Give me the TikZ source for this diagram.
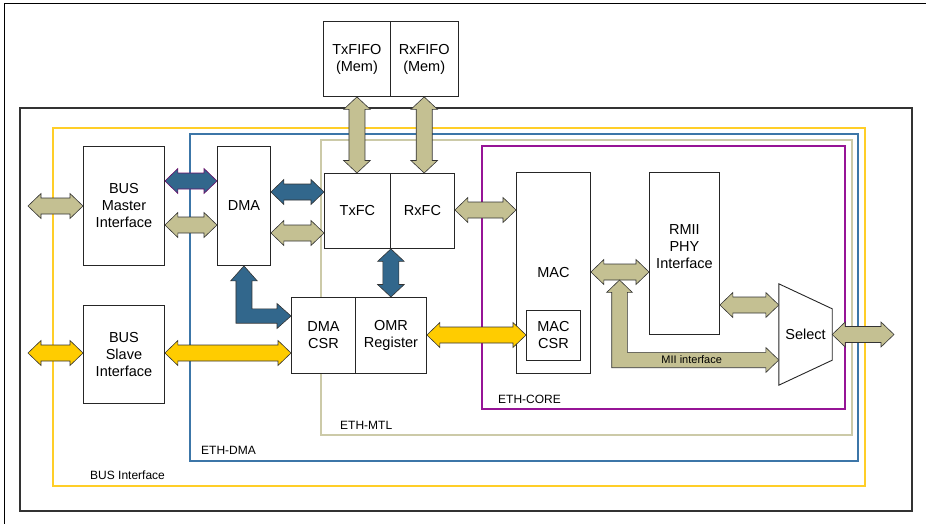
\documentclass[tikz,border=0pt]{standalone}
\usepackage{fontspec}
\setmainfont{Liberation Sans}
\usetikzlibrary{calc}
\definecolor{arrTan}{RGB}{196,192,146}
\definecolor{arrBlue}{RGB}{50,103,140}
\definecolor{arrYellow}{RGB}{255,204,0}
\definecolor{frameYellow}{RGB}{255,206,40}
\definecolor{frameBlue}{RGB}{60,118,168}
\definecolor{frameTan}{RGB}{204,202,168}
\definecolor{framePurple}{RGB}{150,20,150}
\newcommand{\boxfont}{\fontsize{14.5}{17}\selectfont}
\newcommand{\framefont}{\fontsize{12}{14}\selectfont}
% double block arrow, left to right
\newcommand{\dblharrow}[3]{%
  \path[#1] let \p1=(#2), \p2=(#3) in
    (\x1,\y1) -- (\x1+13pt,\y1+12.5pt) -- (\x1+13pt,\y1+8pt) -- (\x2-13pt,\y1+8pt)
    -- (\x2-13pt,\y1+12.5pt) -- (\x2,\y1) -- (\x2-13pt,\y1-12.5pt) -- (\x2-13pt,\y1-8pt)
    -- (\x1+13pt,\y1-8pt) -- (\x1+13pt,\y1-12.5pt) -- cycle;}
% double block arrow, top to bottom
\newcommand{\dblvarrow}[3]{%
  \path[#1] let \p1=(#2), \p2=(#3) in
    (\x1,\y1) -- (\x1+13.3pt,\y1-12.5pt) -- (\x1+8pt,\y1-12.5pt) -- (\x1+8pt,\y2+12.5pt)
    -- (\x1+13.3pt,\y2+12.5pt) -- (\x1,\y2) -- (\x1-13.3pt,\y2+12.5pt) -- (\x1-8pt,\y2+12.5pt)
    -- (\x1-8pt,\y1-12.5pt) -- (\x1-13.3pt,\y1-12.5pt) -- cycle;}
\begin{document}
\begin{tikzpicture}[x=1pt, y=-1pt,
    blk/.style={draw=black!85, line width=0.9pt, fill=white, align=center,
      inner sep=0pt, font=\boxfont, anchor=north west},
    frame/.style={line width=1.3pt},
    framelbl/.style={font=\framefont, anchor=west, inner sep=0pt},
    tanArr/.style={fill=arrTan, draw=black!80, line width=0.6pt},
    blueArr/.style={fill=arrBlue, draw=black!80, line width=0.6pt},
    yellowArr/.style={fill=arrYellow, draw=black!80, line width=0.6pt}]
  \useasboundingbox (0,0) rectangle (926,524);
  % frames
  \draw[line width=1pt] (4,524) -- (4,4) -- (926,4);
  \draw[line width=1.4pt, black!80] (20,108) rectangle (912,511);
  \draw[frame, frameYellow] (53,128) rectangle (865,486);
  \draw[frame, frameBlue] (190,134) rectangle (858,461);
  \draw[frame, frameTan] (321,140) rectangle (852,435);
  \draw[frame, framePurple] (482,146) rectangle (845,409);
  \node[framelbl] (busLbl) at (90,475) {BUS Interface};
  \node[framelbl] (dmaLbl) at (201,450) {ETH-DMA};
  \node[framelbl] (mtlLbl) at (340,425) {ETH-MTL};
  \node[framelbl] (coreLbl) at (498,399) {ETH-CORE};
  % blocks
  \node[blk, minimum width=67pt, minimum height=75pt] (txfifo) at (323,21) {TxFIFO\\(Mem)};
  \node[blk, minimum width=67.5pt, minimum height=75pt] (rxfifo) at (390,21) {RxFIFO\\(Mem)};
  \node[blk, minimum width=66pt, minimum height=75pt] (txfc) at (324,173) {TxFC};
  \node[blk, minimum width=64pt, minimum height=75pt] (rxfc) at (390,173) {RxFC};
  \node[blk, minimum width=81pt, minimum height=119pt] (bmi) at (83,146) {BUS\\Master\\Interface};
  \node[blk, minimum width=53pt, minimum height=119pt] (dma) at (217,146) {DMA};
  \node[blk, minimum width=81pt, minimum height=98pt] (bsi) at (83,305) {BUS\\Slave\\Interface};
  \node[blk, minimum width=64pt, minimum height=75.5pt] (dmacsr) at (291,297) {DMA\\CSR};
  \node[blk, minimum width=71pt, minimum height=75.5pt] (omr) at (355,297) {OMR\\Register};
  \node[blk, minimum width=74pt, minimum height=200.5pt] (mac) at (516,172) {MAC};
  \node[blk, minimum width=54pt, minimum height=50pt] (maccsr) at (526,310) {MAC\\CSR};
  \node[blk, minimum width=70pt, minimum height=162pt] (rmii) at (649,172) {};
  \node[align=center, font=\boxfont, inner sep=0pt] (rmiiTxt) at ($(rmii.center)+(0,-7)$) {RMII\\PHY\\Interface};
  \node[font=\boxfont, minimum width=53pt, minimum height=101pt, inner sep=0pt] (sel) at (805.5,334.5) {};
  \draw[draw=black!85, line width=0.9pt, fill=white] (sel.north west) -- ([yshift=-25pt]sel.north east)
    -- ([yshift=25pt]sel.south east) -- (sel.south west) -- cycle;
  \node[font=\boxfont, inner sep=0pt] (selTxt) at (sel.center) {Select};
  \coordinate (mext) at (28,206);
  \coordinate (sext) at (28,353);
  \coordinate (oext) at (894,335);
  % arrows
  \dblharrow{tanArr}{mext}{bmi.west |- mext}
  \dblharrow{blueArr, draw=framePurple!70!black}{bmi.east |- 0,181}{dma.west |- 0,181}
  \dblharrow{tanArr}{bmi.east |- 0,225}{dma.west |- 0,225}
  \dblharrow{blueArr}{dma.east |- 0,192}{txfc.west |- 0,192}
  \dblharrow{tanArr}{dma.east |- 0,233}{txfc.west |- 0,233}
  \dblharrow{tanArr}{rxfc.east |- 0,210}{mac.west |- 0,210}
  \dblharrow{tanArr}{mac.east |- 0,272}{rmii.west |- 0,272}
  \dblharrow{tanArr}{rmii.east |- 0,305}{sel.west |- 0,305}
  \dblharrow{tanArr}{sel.east}{oext}
  \dblharrow{yellowArr}{sext}{bsi.west |- sext}
  \dblharrow{yellowArr}{bsi.east |- 0,353}{dmacsr.west |- 0,353}
  \dblharrow{yellowArr}{omr.east |- 0,335}{maccsr.west |- 0,335}
  \dblvarrow{tanArr}{txfifo.south}{txfc.north}
  \dblvarrow{tanArr}{rxfifo.south}{rxfifo.south |- rxfc.north}
  \dblvarrow{blueArr}{txfc.south east}{txfc.south east |- omr.north}
  % DMA to DMA CSR
  \path[blueArr] let \p1=(dma.south), \p2=(dmacsr.west |- 0,316) in
    (\x1,\y1) -- (\x1+13.3pt,\y1-15pt) -- (\x1+8pt,\y1-15pt) -- (\x1+8pt,\y2+7.2pt)
    -- (\x2-14pt,\y2+7.2pt) -- (\x2-14pt,\y2+12.5pt) -- (\x2,\y2) -- (\x2-14pt,\y2-12.5pt)
    -- (\x2-14pt,\y2-7.2pt) -- (\x1-8pt,\y2-7.2pt) -- (\x1-8pt,\y1-15pt) -- (\x1-13.3pt,\y1-15pt) -- cycle;
  % MII interface
  \path[tanArr] let \p1=(619.5,280), \p2=(sel.west |- 0,360) in
    (\x1,\y1) -- (\x1+12.8pt,\y1-12.4pt) -- (\x1+7.8pt,\y1-12.4pt) -- (\x1+7.8pt,\y2+7.7pt)
    -- (\x2-13pt,\y2+7.7pt) -- (\x2-13pt,\y2+12.5pt) -- (\x2,\y2) -- (\x2-13pt,\y2-12.5pt)
    -- (\x2-13pt,\y2-7.7pt) -- (\x1-7.8pt,\y2-7.7pt) -- (\x1-7.8pt,\y1-12.4pt) -- (\x1-12.8pt,\y1-12.4pt) -- cycle;
  \node[font=\fontsize{11}{13}\selectfont, inner sep=0pt] (miiLbl) at (691.7,360) {MII interface};
\end{tikzpicture}
\end{document}
